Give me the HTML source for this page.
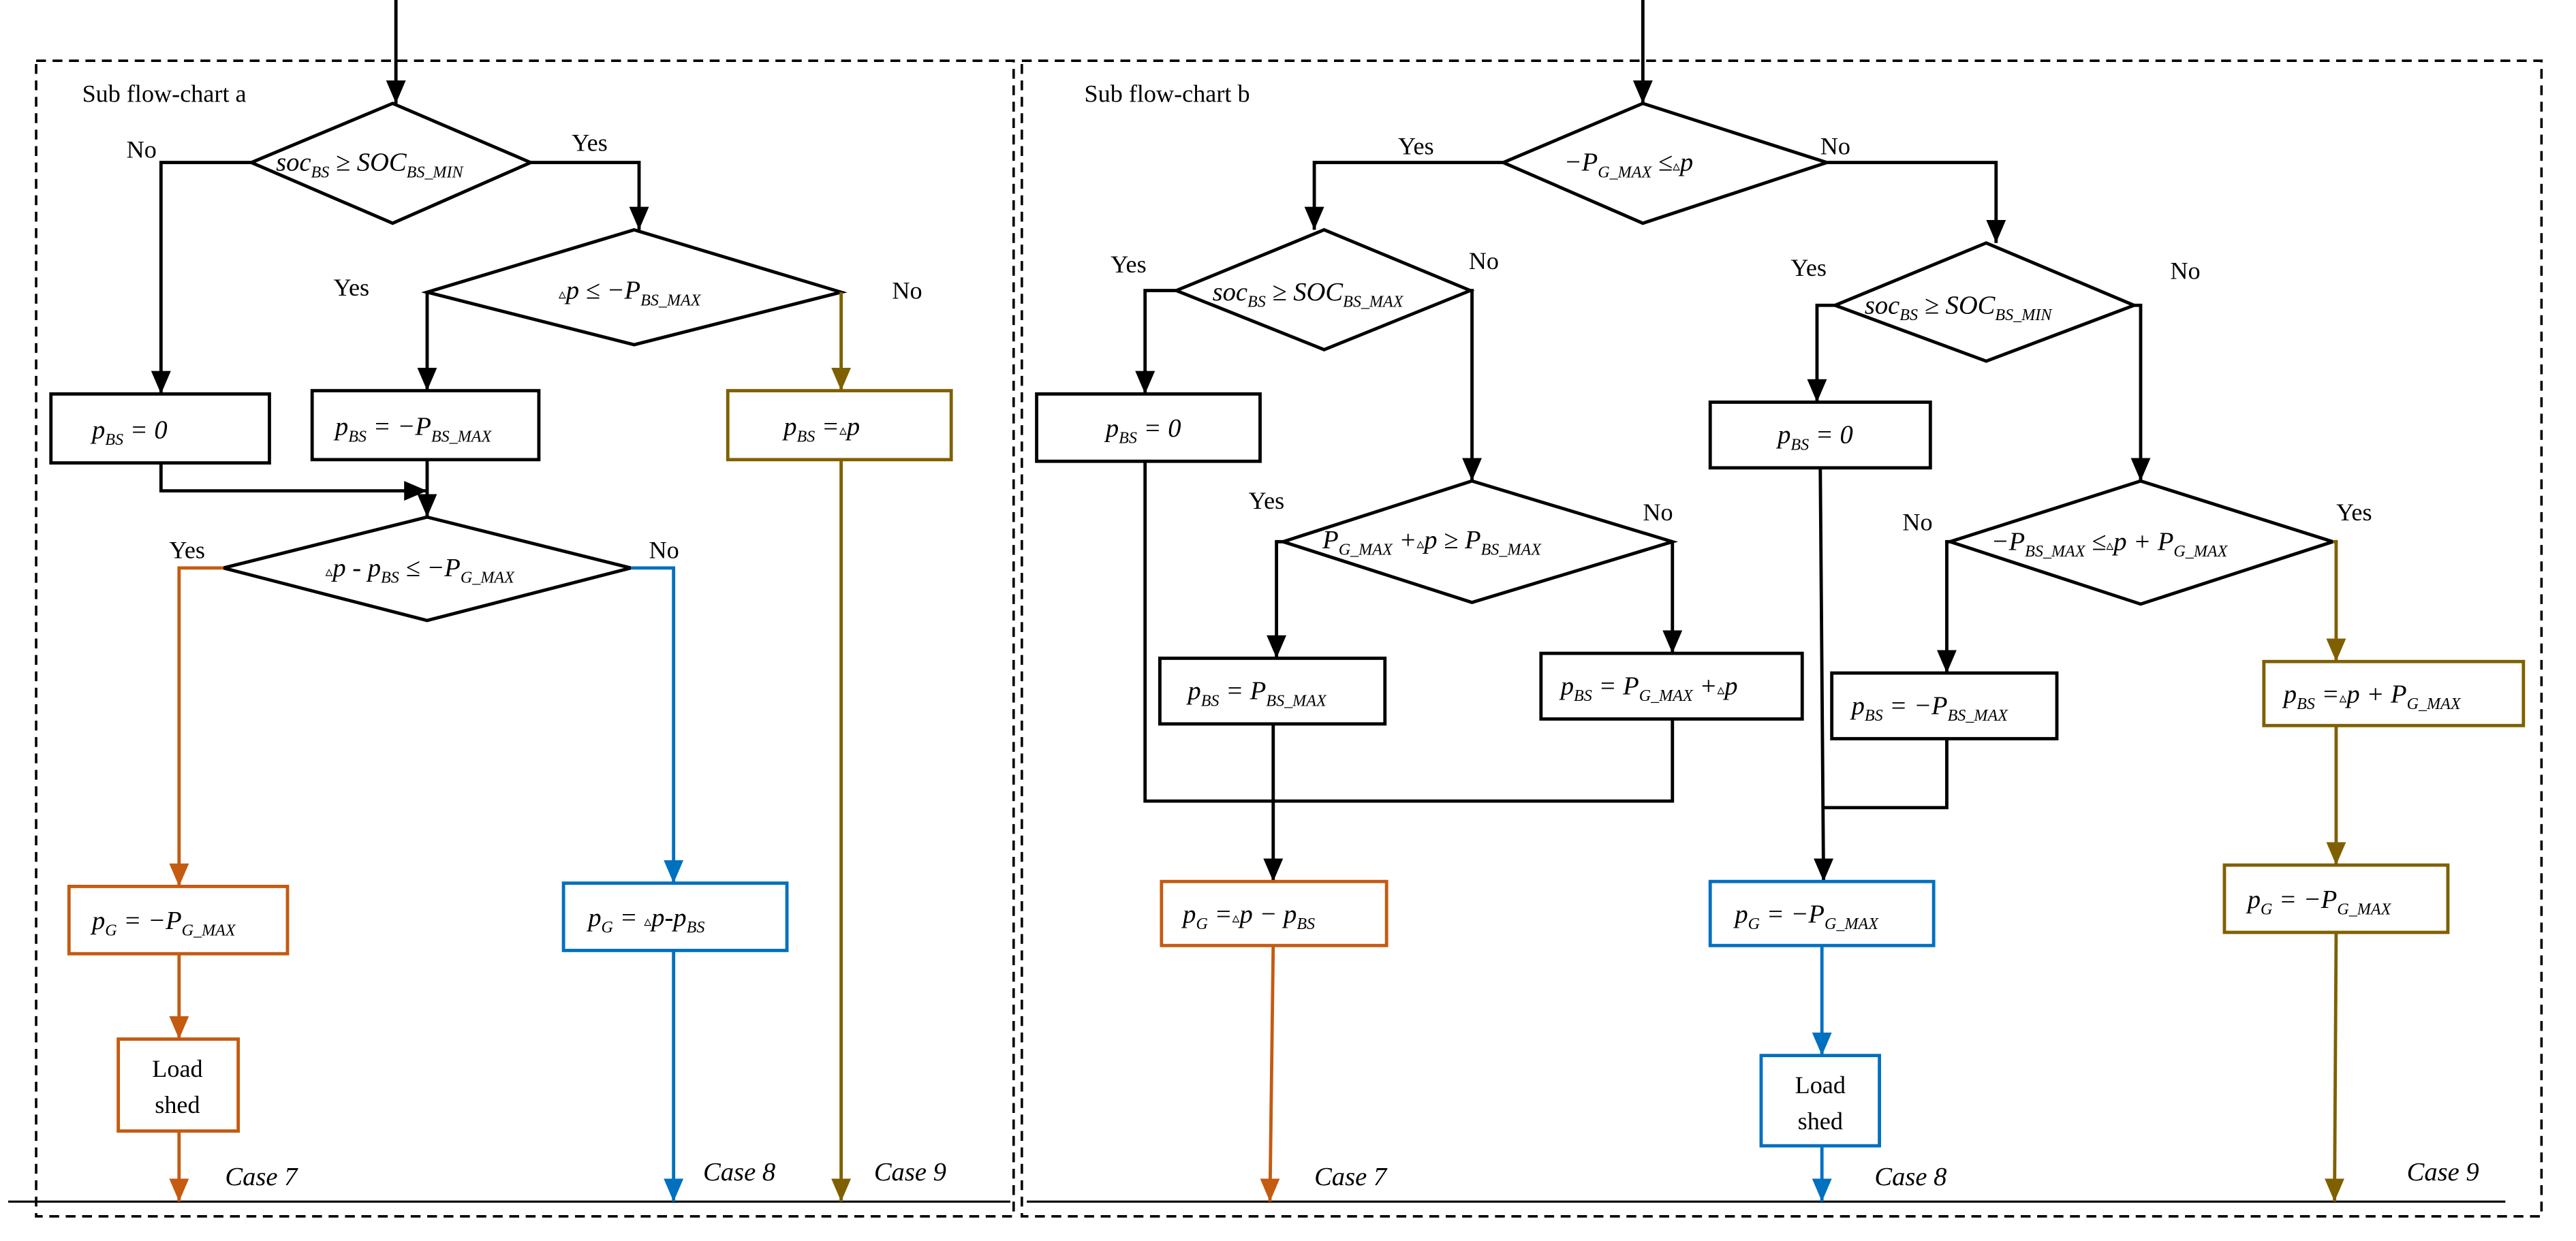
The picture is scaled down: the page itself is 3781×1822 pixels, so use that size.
<!DOCTYPE html>
<html><head><meta charset="utf-8"><style>
html,body{margin:0;padding:0;background:#fff}
svg{display:block;font-family:"Liberation Serif","DejaVu Serif",serif}
svg text, svg tspan{font-family:"Liberation Serif","DejaVu Serif",serif}
.m{font-style:italic;font-size:16px}
.l{font-size:15px}
.s{font-size:10px}
</style></head><body>
<svg width="3781" height="1822" viewBox="0 0 1568 756" preserveAspectRatio="none" xmlns="http://www.w3.org/2000/svg" font-family="Liberation Serif, serif">
<defs>
<marker id="ak" markerUnits="userSpaceOnUse" markerWidth="12" markerHeight="14" refX="6" refY="14" viewBox="0 0 12 14"><path d="M0,0 L12,0 L6,14 Z" fill="#000"/></marker>
<marker id="ao" markerUnits="userSpaceOnUse" markerWidth="12" markerHeight="14" refX="6" refY="14" viewBox="0 0 12 14"><path d="M0,0 L12,0 L6,14 Z" fill="#C55A11"/></marker>
<marker id="ab" markerUnits="userSpaceOnUse" markerWidth="12" markerHeight="14" refX="6" refY="14" viewBox="0 0 12 14"><path d="M0,0 L12,0 L6,14 Z" fill="#0070C0"/></marker>
<marker id="aw" markerUnits="userSpaceOnUse" markerWidth="12" markerHeight="14" refX="6" refY="14" viewBox="0 0 12 14"><path d="M0,0 L12,0 L6,14 Z" fill="#7F6000"/></marker>
<marker id="ar" markerUnits="userSpaceOnUse" markerWidth="14" markerHeight="12" refX="14" refY="6" viewBox="0 0 14 12"><path d="M0,0 L14,6 L0,12 Z" fill="#000"/></marker>
</defs>
<g fill="none" stroke="#000" stroke-width="1.5" stroke-dasharray="6,4">
<rect x="22" y="37" width="595" height="704"/>
<rect x="622" y="37" width="925" height="704"/>
</g>
<g stroke="#000" stroke-width="1.3"><line x1="5" y1="732" x2="615" y2="732"/><line x1="625" y1="732" x2="1525" y2="732"/></g>
<text x="50" y="62" class="l">Sub flow-chart a</text>
<text x="660" y="62" class="l">Sub flow-chart b</text>

<g fill="none" stroke="#000" stroke-width="2">
<line x1="241" y1="0" x2="241" y2="63" marker-end="url(#ak)"/>
<polygon points="239,63 323,99 239,136 153,99" fill="#fff"/>
<polyline points="153,99 98,99 98,240" marker-end="url(#ak)"/>
<polyline points="323,99 389,99 389,140" marker-end="url(#ak)"/>
<polygon points="386,140 512,178 386,210 260,178" fill="#fff"/>
<polyline points="260,178 260,238" marker-end="url(#ak)"/>
<rect x="31" y="240" width="133" height="42"/>
<rect x="190" y="238" width="138" height="42"/>
<polyline points="98,282 98,299 260,299" marker-end="url(#ar)"/>
<line x1="260" y1="280" x2="260" y2="315" marker-end="url(#ak)"/>
<polygon points="260,315 384,346 260,378 136,346" fill="#fff"/>
<line x1="1000" y1="0" x2="1000" y2="63" marker-end="url(#ak)"/>
<polygon points="1000,63 1112,99 1000,136 915,99" fill="#fff"/>
<polyline points="915,99 800,99 800,140" marker-end="url(#ak)"/>
<polyline points="1112,99 1215,99 1215,148" marker-end="url(#ak)"/>
<polygon points="806,140 895,177 806,213 716,177" fill="#fff"/>
<polyline points="716,177 697,177 697,240" marker-end="url(#ak)"/>
<polyline points="895,177 896,177 896,293" marker-end="url(#ak)"/>
<rect x="631" y="240" width="136" height="41"/>
<polygon points="896,293 1018,330 896,367 781,330" fill="#fff"/>
<polyline points="781,330 777,330 777,401" marker-end="url(#ak)"/>
<polyline points="1018,330 1018,398" marker-end="url(#ak)"/>
<rect x="706" y="401" width="137" height="40"/>
<rect x="938" y="398" width="159" height="40"/>
<polyline points="697,281 697,488 1018,488 1018,438"/>
<line x1="775" y1="441" x2="775" y2="537" marker-end="url(#ak)"/>
<polygon points="1209,148 1299,186 1209,220 1117,186" fill="#fff"/>
<polyline points="1117,186 1106,186 1106,245" marker-end="url(#ak)"/>
<polyline points="1299,186 1303,186 1303,293" marker-end="url(#ak)"/>
<rect x="1041" y="245" width="134" height="40"/>
<polygon points="1303,293 1420,330 1303,368 1187,330" fill="#fff"/>
<polyline points="1187,330 1185,330 1185,410" marker-end="url(#ak)"/>
<rect x="1115" y="410" width="137" height="40"/>
<line x1="1108" y1="285" x2="1110" y2="537" marker-end="url(#ak)"/>
<polyline points="1185,450 1185,492 1110,492"/>
</g>
<g fill="none" stroke="#C55A11" stroke-width="2">
<polyline points="136,346 109,346 109,540" marker-end="url(#ao)"/>
<rect x="42" y="540" width="133" height="41"/>
<line x1="109" y1="581" x2="109" y2="633" marker-end="url(#ao)"/>
<rect x="72" y="633" width="73" height="56"/>
<line x1="109" y1="689" x2="109" y2="732" marker-end="url(#ao)"/>
<rect x="707" y="537" width="137" height="39"/>
<line x1="775" y1="576" x2="773" y2="732" marker-end="url(#ao)"/>
</g>
<g fill="none" stroke="#0070C0" stroke-width="2">
<polyline points="384,346 410,346 410,538" marker-end="url(#ab)"/>
<rect x="343" y="538" width="136" height="41"/>
<line x1="410" y1="579" x2="410" y2="732" marker-end="url(#ab)"/>
<rect x="1041" y="537" width="136" height="39"/>
<line x1="1109" y1="576" x2="1109" y2="643" marker-end="url(#ab)"/>
<rect x="1072" y="643" width="72" height="55"/>
<line x1="1109" y1="698" x2="1109" y2="732" marker-end="url(#ab)"/>
</g>
<g fill="none" stroke="#7F6000" stroke-width="2">
<polyline points="512,178 512,238" marker-end="url(#aw)"/>
<rect x="443" y="238" width="136" height="42"/>
<line x1="512" y1="280" x2="512" y2="732" marker-end="url(#aw)"/>
<polyline points="1420,330 1422,330 1422,403" marker-end="url(#aw)"/>
<rect x="1378" y="403" width="158" height="39"/>
<line x1="1422" y1="442" x2="1422" y2="527" marker-end="url(#aw)"/>
<rect x="1354" y="527" width="136" height="41"/>
<line x1="1422" y1="568" x2="1421" y2="732" marker-end="url(#aw)"/>
</g>

<g class="l">
<text x="77" y="96">No</text><text x="348" y="92">Yes</text>
<text x="203" y="180">Yes</text><text x="543" y="182">No</text>
<text x="103" y="340">Yes</text><text x="395" y="340">No</text>
<text x="851" y="94">Yes</text><text x="1108" y="94">No</text>
<text x="676" y="166">Yes</text><text x="894" y="164">No</text>
<text x="760" y="310">Yes</text><text x="1000" y="317">No</text>
<text x="1090" y="168">Yes</text><text x="1321" y="170">No</text>
<text x="1158" y="323">No</text><text x="1422" y="317">Yes</text>
<text x="108" y="656" text-anchor="middle">Load</text><text x="108" y="678" text-anchor="middle">shed</text>
<text x="1108" y="666" text-anchor="middle">Load</text><text x="1108" y="688" text-anchor="middle">shed</text>
</g>
<g class="m">
<text x="137" y="722">Case 7</text><text x="428" y="719">Case 8</text><text x="532" y="719">Case 9</text>
<text x="800" y="722">Case 7</text><text x="1141" y="722">Case 8</text><text x="1465" y="719">Case 9</text>

<text x="168" y="104">soc<tspan class="s" dy="4">BS</tspan><tspan dy="-4"> ≥ SOC</tspan><tspan class="s" dy="4">BS_MIN</tspan></text>
<text x="340" y="182"><tspan font-size="9">▵</tspan>p ≤ −P<tspan class="s" dy="4">BS_MAX</tspan></text>
<text x="56" y="267">p<tspan class="s" dy="4">BS</tspan><tspan dy="-4"> = 0</tspan></text>
<text x="204" y="265">p<tspan class="s" dy="4">BS</tspan><tspan dy="-4"> = −P</tspan><tspan class="s" dy="4">BS_MAX</tspan></text>
<text x="477" y="265">p<tspan class="s" dy="4">BS</tspan><tspan dy="-4"> =</tspan><tspan font-size="9">▵</tspan>p</text>
<text x="198" y="351"><tspan font-size="9">▵</tspan>p - p<tspan class="s" dy="4">BS</tspan><tspan dy="-4"> ≤ −P</tspan><tspan class="s" dy="4">G_MAX</tspan></text>
<text x="56" y="566">p<tspan class="s" dy="4">G</tspan><tspan dy="-4"> = −P</tspan><tspan class="s" dy="4">G_MAX</tspan></text>
<text x="358" y="564">p<tspan class="s" dy="4">G</tspan><tspan dy="-4"> = </tspan><tspan font-size="9">▵</tspan>p-p<tspan class="s" dy="4">BS</tspan></text>

<text x="952" y="104">−P<tspan class="s" dy="4">G_MAX</tspan><tspan dy="-4"> ≤</tspan><tspan font-size="9">▵</tspan>p</text>
<text x="738" y="183">soc<tspan class="s" dy="4">BS</tspan><tspan dy="-4"> ≥ SOC</tspan><tspan class="s" dy="4">BS_MAX</tspan></text>
<text x="673" y="266">p<tspan class="s" dy="4">BS</tspan><tspan dy="-4"> = 0</tspan></text>
<text x="805" y="334">P<tspan class="s" dy="4">G_MAX</tspan><tspan dy="-4"> +</tspan><tspan font-size="9">▵</tspan>p ≥ P<tspan class="s" dy="4">BS_MAX</tspan></text>
<text x="723" y="426">p<tspan class="s" dy="4">BS</tspan><tspan dy="-4"> = P</tspan><tspan class="s" dy="4">BS_MAX</tspan></text>
<text x="950" y="423">p<tspan class="s" dy="4">BS</tspan><tspan dy="-4"> = P</tspan><tspan class="s" dy="4">G_MAX</tspan><tspan dy="-4"> +</tspan><tspan font-size="9">▵</tspan>p</text>
<text x="720" y="562">p<tspan class="s" dy="4">G</tspan><tspan dy="-4"> =</tspan><tspan font-size="9">▵</tspan>p − p<tspan class="s" dy="4">BS</tspan></text>
<text x="1135" y="191">soc<tspan class="s" dy="4">BS</tspan><tspan dy="-4"> ≥ SOC</tspan><tspan class="s" dy="4">BS_MIN</tspan></text>
<text x="1082" y="270">p<tspan class="s" dy="4">BS</tspan><tspan dy="-4"> = 0</tspan></text>
<text x="1212" y="335">−P<tspan class="s" dy="4">BS_MAX</tspan><tspan dy="-4"> ≤</tspan><tspan font-size="9">▵</tspan>p + P<tspan class="s" dy="4">G_MAX</tspan></text>
<text x="1127" y="435">p<tspan class="s" dy="4">BS</tspan><tspan dy="-4"> = −P</tspan><tspan class="s" dy="4">BS_MAX</tspan></text>
<text x="1390" y="428">p<tspan class="s" dy="4">BS</tspan><tspan dy="-4"> =</tspan><tspan font-size="9">▵</tspan>p + P<tspan class="s" dy="4">G_MAX</tspan></text>
<text x="1056" y="562">p<tspan class="s" dy="4">G</tspan><tspan dy="-4"> = −P</tspan><tspan class="s" dy="4">G_MAX</tspan></text>
<text x="1368" y="553">p<tspan class="s" dy="4">G</tspan><tspan dy="-4"> = −P</tspan><tspan class="s" dy="4">G_MAX</tspan></text>
</g>
</svg>
</body></html>
